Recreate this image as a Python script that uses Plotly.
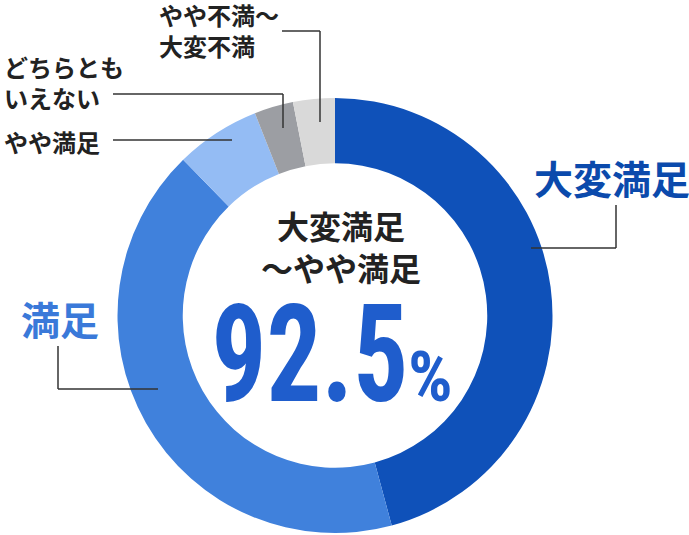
import plotly.graph_objects as go

# Data (percent of respondents)
labels = ["大変満足", "満足", "やや満足", "どちらともいえない", "やや不満～大変不満"]
values = [45.8, 41.9, 6.3, 2.9, 3.1]
colors = ["#0f51b9", "#4081dc", "#94bcf4", "#9c9ea3", "#d9d9d9"]
total_label = "92.5"

W, H = 689, 535


def px(x, y):
    # pixel position -> paper coords
    return x / W, 1 - y / H


fig = go.Figure()
fig.add_trace(go.Pie(
    labels=labels,
    values=values,
    hole=0.70,
    sort=False,
    direction="clockwise",
    rotation=0,
    marker=dict(colors=colors, line=dict(width=0)),
    textinfo="none",
    hoverinfo="label+percent",
    domain=dict(x=[px(117.5, 0)[0], px(552.5, 0)[0]], y=[px(0, 533)[1], px(0, 98)[1]]),
    showlegend=False,
))

jp = "Noto Sans CJK JP"
num = "Roboto Condensed"
dark = "#222222"

annotations = []


def add_text(text, x, y, size, color, font=jp, xanchor="center", align="center"):
    ax, ay = px(x, y)
    annotations.append(dict(
        text=text, x=ax, y=ay, xref="paper", yref="paper",
        xanchor=xanchor, yanchor="middle", align=align, showarrow=False,
        font=dict(family=font, size=size, color=color, weight="bold"),
    ))


# outside labels
add_text(labels[0], 612, 177, 39, "#0b4aac")
add_text(labels[1], 60, 318, 39, "#3a79d9")
add_text(labels[2], 2, 141, 24, dark, xanchor="left", align="left")
add_text("どちらとも<br>いえない", 2, 82, 24, dark, xanchor="left", align="left")
add_text("やや不満～<br>大変不満", 157, 30, 24, dark, xanchor="left", align="left")

# centre text
add_text("大変満足<br>～やや満足", 341, 246, 32, dark)
add_text(total_label, 310, 354, 136, "#1f5dcc", font=num)
add_text("%", 430, 377, 70, "#1f5dcc", font=num)

# leader lines
leaders = [
    [(616, 205), (616, 248), (531, 248)],
    [(58, 346), (58, 389), (158, 389)],
    [(113, 140), (232, 140)],
    [(113, 94), (283, 94), (283, 128)],
    [(282, 31), (320, 31), (320, 122)],
]
shapes = []
for pts in leaders:
    for (x0, y0), (x1, y1) in zip(pts[:-1], pts[1:]):
        a0, b0 = px(x0, y0)
        a1, b1 = px(x1, y1)
        shapes.append(dict(type="line", xref="paper", yref="paper",
                           x0=a0, y0=b0, x1=a1, y1=b1,
                           line=dict(color="#333333", width=1.5)))

fig.update_layout(
    width=W, height=H,
    margin=dict(l=0, r=0, t=0, b=0),
    paper_bgcolor="white",
    plot_bgcolor="white",
    annotations=annotations,
    shapes=shapes,
)

# drop the page margin and squeeze the big number like the condensed original
post = """
document.body.style.margin = '0';
document.querySelectorAll('.annotation-text').forEach(function (t) {
  if (t.textContent === '%s') {
    t.style.transformBox = 'fill-box';
    t.style.transformOrigin = 'center';
    t.style.transform = 'scaleX(0.8)';
  }
});
""" % total_label

fig.write_html("out.html", post_script=post, config={"displayModeBar": False})
